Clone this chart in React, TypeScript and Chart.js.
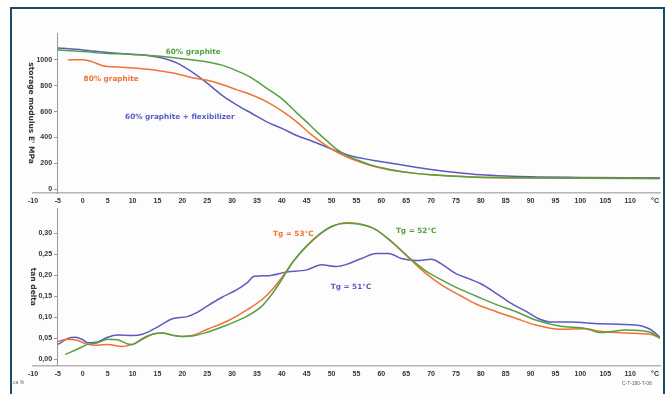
import React, { useEffect, useRef } from "react";
import { Chart, registerables } from "chart.js";
Chart.register(...registerables);

// ---------- data ----------
const xTicks = [-10, -5, 0, 5, 10, 15, 20, 25, 30, 35, 40, 45, 50, 55, 60, 65, 70, 75, 80, 85, 90, 95, 100, 105, 110, 115];
const xTickLabels = ["-10", "-5", "0", "5", "10", "15", "20", "25", "30", "35", "40", "45", "50", "55", "60", "65", "70", "75", "80", "85", "90", "95", "100", "105", "110", "°C"];
const modulusTicks = [0, 200, 400, 600, 800, 1000];
const tanTicks = [0, 0.05, 0.1, 0.15, 0.2, 0.25, 0.3];

// storage modulus E' (MPa)
const greenModT = [-5, 0, 5, 10, 15, 20, 25, 28, 31, 34, 37, 40, 43, 45, 47, 49, 51, 53, 55, 58, 62, 66, 70, 75, 80, 90, 100, 110, 116];
const greenModV = [1078, 1065, 1050, 1045, 1030, 1010, 985, 960, 915, 860, 780, 700, 590, 520, 445, 375, 310, 260, 228, 185, 150, 125, 110, 98, 92, 87, 85, 83, 82];
const orangeModT = [-3, 0, 2, 4, 7, 10, 13, 16, 19, 22, 25, 28, 31, 34, 37, 40, 43, 46, 50, 53, 56, 59, 62, 66, 70, 75, 80, 90, 100, 110, 116];
const orangeModV = [1000, 1002, 985, 955, 945, 938, 928, 912, 892, 862, 842, 810, 768, 728, 675, 605, 520, 420, 310, 250, 205, 170, 145, 125, 110, 98, 90, 85, 83, 82, 82];
const blueModT = [-5, 0, 5, 10, 13, 16, 19, 22, 25, 28, 31, 34, 37, 40, 43, 46, 50, 54, 58, 62, 66, 70, 75, 80, 85, 90, 100, 110, 116];
const blueModV = [1093, 1078, 1058, 1042, 1035, 1015, 975, 905, 820, 725, 650, 585, 520, 470, 415, 372, 310, 255, 225, 200, 175, 152, 128, 110, 100, 94, 90, 88, 88];

// tan delta
const blueTanT = [-5, -3, -1.5, 0, 1, 3, 5, 7, 10, 12, 15, 18, 21, 23, 25, 28, 31, 33, 34.5, 37, 41, 45, 48, 51, 53, 56, 59, 61.5, 64, 67, 70, 72, 75, 78, 80, 83, 86, 89, 92, 94, 98, 104, 111, 114, 116];
const blueTanV = [0.036, 0.05, 0.053, 0.047, 0.04, 0.042, 0.053, 0.058, 0.057, 0.06, 0.077, 0.097, 0.102, 0.112, 0.127, 0.148, 0.166, 0.182, 0.198, 0.199, 0.208, 0.213, 0.225, 0.221, 0.226, 0.24, 0.252, 0.252, 0.24, 0.235, 0.238, 0.228, 0.204, 0.19, 0.18, 0.158, 0.134, 0.115, 0.095, 0.089, 0.089, 0.085, 0.082, 0.072, 0.053];
const orangeTanT = [-5, -3, -1, 1, 3, 5, 8, 10, 12, 14, 16, 18, 20, 22, 25, 29, 33, 36, 38, 40, 42.3, 45, 47.7, 50.3, 53, 55.3, 58.7, 62, 66, 69, 72, 76, 79, 83, 87, 91, 96, 101, 104, 109, 114, 116];
const orangeTanV = [0.043, 0.048, 0.045, 0.036, 0.034, 0.036, 0.031, 0.036, 0.048, 0.06, 0.063, 0.058, 0.055, 0.057, 0.072, 0.091, 0.118, 0.142, 0.165, 0.195, 0.233, 0.269, 0.298, 0.317, 0.325, 0.323, 0.31, 0.28, 0.236, 0.204, 0.178, 0.151, 0.132, 0.114, 0.098, 0.082, 0.072, 0.073, 0.067, 0.063, 0.06, 0.052];
const greenTanT = [-3.5, -1, 1, 3, 5, 7, 9, 10, 12, 14, 16, 18, 20, 22, 25, 29, 33, 36, 38, 40, 42.3, 45, 47.7, 50.3, 53, 55.3, 58.7, 62, 66, 69, 72, 76, 79, 83, 87, 91, 96, 101, 104, 106, 109, 114, 116];
const greenTanV = [0.012, 0.025, 0.036, 0.04, 0.048, 0.047, 0.037, 0.036, 0.05, 0.06, 0.063, 0.058, 0.055, 0.056, 0.065, 0.082, 0.103, 0.127, 0.155, 0.19, 0.233, 0.27, 0.299, 0.318, 0.324, 0.322, 0.31, 0.281, 0.238, 0.21, 0.19, 0.166, 0.151, 0.131, 0.114, 0.094, 0.079, 0.074, 0.064, 0.066, 0.07, 0.065, 0.05];

// in-plot labels (data coordinates)
const modLabelText = ["60% graphite", "80% graphite", "60% graphite + flexibilizer"];
const modLabelT = [22.2, 5.7, 19.5];
const modLabelV = [1062, 853, 558];
const tanLabelText = ["Tg = 53°C", "Tg = 52°C", "Tg = 51°C"];
const tanLabelT = [42.3, 67.0, 53.9];
const tanLabelV = [0.298, 0.305, 0.173];

const GREEN = "#55a043";
const ORANGE = "#ee7335";
const BLUE = "#5b5cbf";
const labelColors = [GREEN, ORANGE, BLUE];
const tanLabelColors = [ORANGE, GREEN, BLUE];

const pts = (t: number[], v: number[]) => t.map((x, i) => ({ x, y: v[i] }));

const FONT = "'Liberation Sans', Arial, sans-serif";
const WIDE = "'DejaVu Sans', Verdana, sans-serif";

function labelPlugin(texts: string[], ts: number[], vs: number[], colors: string[]) {
  return {
    id: "inlabels",
    afterDatasetsDraw(chart: any) {
      const ctx = chart.ctx;
      const xs = chart.scales.x;
      const ys = chart.scales.y;
      ctx.save();
      ctx.font = `bold 7.3px ${WIDE}`;
      ctx.textAlign = "center";
      ctx.textBaseline = "middle";
      texts.forEach((t, i) => {
        ctx.fillStyle = colors[i];
        ctx.fillText(t, xs.getPixelForValue(ts[i]), ys.getPixelForValue(vs[i]));
      });
      ctx.restore();
    },
  };
}

function buildConfig(opts: {
  datasets: any[];
  yMin: number;
  yMax: number;
  yTicks: number[];
  yFmt: (v: number) => string;
  yTitle: string;
  padding: any;
  plugin: any;
}) {
  return {
    type: "line",
    data: {
      datasets: opts.datasets.map((d) => ({
        ...d,
        borderWidth: 1.5,
        pointRadius: 0,
        fill: false,
        cubicInterpolationMode: "monotone",
      })),
    },
    options: {
      animation: false,
      responsive: false,
      maintainAspectRatio: false,
      layout: { padding: opts.padding },
      plugins: { legend: { display: false }, tooltip: { enabled: false } },
      scales: {
        x: {
          type: "linear",
          min: -10,
          max: 116,
          afterBuildTicks: (s: any) => {
            s.ticks = xTicks.map((value) => ({ value }));
          },
          ticks: {
            autoSkip: false,
            maxRotation: 0,
            padding: 4,
            color: "#333",
            font: { family: FONT, size: 7, weight: "bold" },
            callback: (v: any) => {
              const i = xTicks.indexOf(Number(v));
              return i >= 0 ? xTickLabels[i] : "";
            },
          },
          grid: { display: false, drawTicks: false },
          border: { display: true, color: "#b5b5b5", width: 1.5, dash: [1.5, 1] },
        },
        y: {
          type: "linear",
          position: { x: -5 },
          min: opts.yMin,
          max: opts.yMax,
          afterBuildTicks: (s: any) => {
            s.ticks = opts.yTicks.map((value) => ({ value }));
          },
          ticks: {
            padding: 2,
            color: "#333",
            font: { family: FONT, size: 7, weight: "bold" },
            callback: (v: any) => opts.yFmt(Number(v)) + "   ",
          },
          grid: { display: true, drawOnChartArea: false, drawTicks: true, tickLength: 3, color: "#999" },
          border: { display: true, color: "#999", width: 1 },
          title: {
            display: true,
            text: opts.yTitle,
            color: "#333",
            padding: { top: -6, bottom: 0 },
            font: { family: WIDE, size: 7.5, weight: "bold" },
          },
        },
      },
    },
    plugins: [opts.plugin],
  };
}

function ChartCanvas({ config, top, height }: { config: () => any; top: number; height: number }) {
  const ref = useRef<HTMLCanvasElement | null>(null);
  useEffect(() => {
    if (!ref.current) return;
    const c = new Chart(ref.current, config());
    return () => c.destroy();
  }, []);
  return (
    <canvas
      ref={ref}
      width={670}
      height={height}
      style={{ position: "absolute", left: 0, top, width: 670, height }}
    />
  );
}

export default function App() {
  const topConfig = () =>
    buildConfig({
      datasets: [
        { data: pts(greenModT, greenModV), borderColor: GREEN },
        { data: pts(orangeModT, orangeModV), borderColor: ORANGE },
        { data: pts(blueModT, blueModV), borderColor: BLUE },
      ],
      yMin: -31,
      yMax: 1209,
      yTicks: modulusTicks,
      yFmt: (v) => String(v),
      yTitle: "storage modulus E' MPa",
      padding: { left: 33, right: 10, top: 33, bottom: 5.6 },
      plugin: labelPlugin(modLabelText, modLabelT, modLabelV, labelColors),
    });
  const bottomConfig = () =>
    buildConfig({
      datasets: [
        { data: pts(greenTanT, greenTanV), borderColor: GREEN },
        { data: pts(orangeTanT, orangeTanV), borderColor: ORANGE },
        { data: pts(blueTanT, blueTanV), borderColor: BLUE },
      ],
      yMin: -0.0144,
      yMax: 0.36,
      yTicks: tanTicks,
      yFmt: (v) => v.toFixed(2).replace(".", ","),
      yTitle: "tan delta",
      padding: { left: 33, right: 10, top: 13, bottom: 12 },
      plugin: labelPlugin(tanLabelText, tanLabelT, tanLabelV, tanLabelColors),
    });

  return (
    <div style={{ position: "absolute", left: 0, top: 0, width: 670, height: 394, background: "#fff", overflow: "hidden" }}>
      <div
        style={{
          position: "absolute",
          left: 10,
          top: 7,
          width: 651,
          height: 400,
          border: "2px solid #1c4b68",
          background: "#fdfdfd",
        }}
      />
      <ChartCanvas config={topConfig} top={0} height={215} />
      <ChartCanvas config={bottomConfig} top={195} height={199} />
      <span style={{ position: "absolute", left: 13, top: 379, font: `5px ${FONT}`, color: "#666" }}>ca %</span>
      <span style={{ position: "absolute", left: 622, top: 380, font: `5px ${FONT}`, color: "#666" }}>C-T-180-T-08</span>
    </div>
  );
}
